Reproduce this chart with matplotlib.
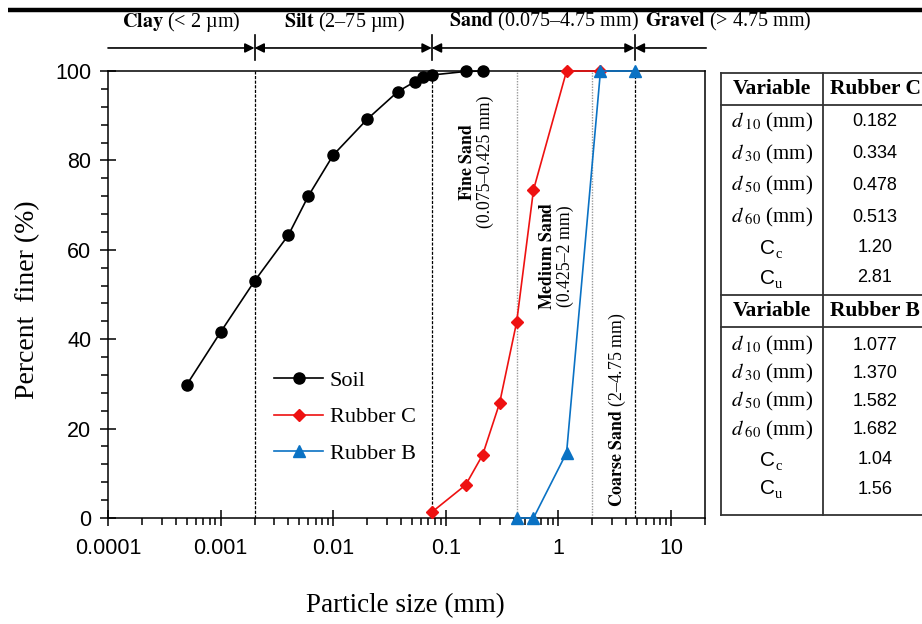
import matplotlib.pyplot as plt
import matplotlib.transforms as mtransforms
from matplotlib.ticker import FixedLocator, FixedFormatter, LogLocator, NullFormatter, MultipleLocator

plt.rcParams['mathtext.fontset'] = 'stix'
SERIF = 'Liberation Serif'
SANS = 'Liberation Sans'

# ── Data ─────────────────────────────────────────────────────
soil_size = [0.0005, 0.001, 0.002, 0.004, 0.006, 0.01, 0.02, 0.0375, 0.053, 0.063, 0.075, 0.15, 0.212]
soil_pct = [29.8, 41.6, 53.0, 63.3, 72.0, 81.2, 89.2, 95.4, 97.6, 98.6, 99.1, 99.9, 100.0]

rubc_size = [0.075, 0.15, 0.212, 0.3, 0.425, 0.6, 1.18, 2.36]
rubc_pct = [1.3, 7.4, 14.1, 25.7, 43.8, 73.4, 100.0, 100.0]

rubb_size = [0.425, 0.6, 1.18, 2.36, 4.75]
rubb_pct = [0.0, 0.0, 14.6, 100.0, 100.0]

# soil class boundaries (mm)
class_bounds = [0.002, 0.075, 4.75]
sand_bounds = [0.425, 2.0]

x_ticks = [0.0001, 0.001, 0.01, 0.1, 1, 10]
x_ticklabels = ["0.0001", "0.001", "0.01", "0.1", "1", "10"]

table_vars = ["d10", "d30", "d50", "d60", "Cc", "Cu"]
rubc_table = ["0.182", "0.334", "0.478", "0.513", "1.20", "2.81"]
rubb_table = ["1.077", "1.370", "1.582", "1.682", "1.04", "1.56"]

# ── Figure ───────────────────────────────────────────────────
fig = plt.figure(figsize=(9.22, 6.24), dpi=100)
ax = fig.add_axes([108 / 922, 1 - 518 / 624, (705 - 108) / 922, (518 - 71) / 624])

ax.plot(soil_size, soil_pct, color="black", lw=1.2, marker="o", ms=8,
        label="Soil", clip_on=False, zorder=5)
ax.plot(rubc_size, rubc_pct, color="#EE1111", lw=1.2, marker="D", ms=6,
        label="Rubber C", clip_on=False, zorder=5)
ax.plot(rubb_size, rubb_pct, color="#0A72C4", lw=1.2, marker="^", ms=8,
        label="Rubber B", clip_on=False, zorder=6)

for b in class_bounds:
    ax.axvline(b, color="black", lw=0.9, ls=(0, (2.5, 1.2)), zorder=2)
for b in sand_bounds:
    ax.axvline(b, color="#999999", lw=1.0, ls=(0, (1, 1)), zorder=2)

ax.set_xscale("log")
ax.set_xlim(1e-4, 20)
ax.set_ylim(0, 100)
ax.xaxis.set_major_locator(FixedLocator(x_ticks))
ax.xaxis.set_major_formatter(FixedFormatter(x_ticklabels))
ax.xaxis.set_minor_locator(LogLocator(base=10, subs=range(2, 10), numticks=20))
ax.xaxis.set_minor_formatter(NullFormatter())
ax.yaxis.set_major_locator(MultipleLocator(20))
ax.yaxis.set_minor_locator(MultipleLocator(4))
ax.tick_params(which="major", direction="inout", length=11, width=1.1,
               labelsize=15.5, pad=9)
ax.tick_params(which="minor", direction="out", length=5, width=1.1)
ax.tick_params(axis="y", which="major", length=12, pad=6)
for lab in ax.get_xticklabels() + ax.get_yticklabels():
    lab.set_family(SANS)
for sp in ax.spines.values():
    sp.set_linewidth(1.1)

fig.text(28 / 922, 1 - 300 / 624, "Percent  finer (%)", rotation=90,
         ha="center", va="center", family=SERIF, fontsize=20)
fig.text(405 / 922, 1 - 606 / 624, "Particle size (mm)",
         ha="center", va="center", family=SERIF, fontsize=19.5)

# ── Sand sub-class labels ────────────────────────────────────
ax.text(0.187, 79.6, "$\\mathbf{Fine\\ Sand}$\n(0.075–0.425 mm)", rotation=90,
        ha="center", va="center", multialignment="center", family=SERIF,
        fontsize=12.8, linespacing=1.0)
ax.text(0.96, 58.6, "$\\mathbf{Medium\\ Sand}$\n(0.425–2 mm)", rotation=90,
        ha="center", va="center", multialignment="center", family=SERIF,
        fontsize=12.8, linespacing=1.0)
ax.text(3.34, 24.2, "$\\mathbf{Coarse\\ Sand}$ (2–4.75 mm)", rotation=90,
        ha="center", va="center", family=SERIF, fontsize=12.8)

# ── Legend ───────────────────────────────────────────────────
leg = ax.legend(loc="upper left", bbox_to_anchor=(0.245, 0.375), frameon=False,
                prop={"family": SERIF, "size": 16}, handlelength=2.2,
                handletextpad=0.3, labelspacing=0.72)

# ── Top class arrows ─────────────────────────────────────────
trans = mtransforms.blended_transform_factory(ax.transData, ax.transAxes)
y_arr = 1.0515
arrow_kw = dict(color="black", lw=1.2, shrinkA=0, shrinkB=0, mutation_scale=14)
ax.annotate("", xy=(class_bounds[0], y_arr), xytext=(1e-4, y_arr), xycoords=trans,
            textcoords=trans, annotation_clip=False,
            arrowprops=dict(arrowstyle="-|>", **arrow_kw))
ax.annotate("", xy=(class_bounds[1], y_arr), xytext=(class_bounds[0], y_arr), xycoords=trans,
            textcoords=trans, annotation_clip=False,
            arrowprops=dict(arrowstyle="<|-|>", **arrow_kw))
ax.annotate("", xy=(class_bounds[2], y_arr), xytext=(class_bounds[1], y_arr), xycoords=trans,
            textcoords=trans, annotation_clip=False,
            arrowprops=dict(arrowstyle="<|-|>", **arrow_kw))
ax.annotate("", xy=(class_bounds[2], y_arr), xytext=(20.5, y_arr), xycoords=trans,
            textcoords=trans, annotation_clip=False,
            arrowprops=dict(arrowstyle="-|>", **arrow_kw))
for b in class_bounds:
    ax.plot([b, b], [1.024, 1.081], transform=trans, color="black", lw=1.2, clip_on=False)

top_kw = dict(transform=trans, va="center", family=SERIF, fontsize=14.5)
ax.text(0.00045, 1.11, "$\\mathbf{Clay}$ (< 2 µm)", ha="center", **top_kw)
ax.text(0.0125, 1.11, "$\\mathbf{Silt}$ (2–75 µm)", ha="center", **top_kw)
ax.text(0.75, 1.11, "$\\mathbf{Sand}$ (0.075–4.75 mm)", ha="center", **top_kw)
ax.text(5.9, 1.11, "$\\mathbf{Gravel}$ (> 4.75 mm)", ha="left", **top_kw)

# ── Overlay (pixel coords) for top bar and table ─────────────
ov = fig.add_axes([0, 0, 1, 1], zorder=-1)
ov.set_xlim(0, 922)
ov.set_ylim(624, 0)
ov.axis("off")
ov.plot([8, 922], [10, 10], color="black", lw=3.2, solid_capstyle="butt")

tc = "#333333"
tlw = 1.3
x0, xm, x1 = 721, 823, 930
ov.plot([x0, x1], [73, 73], color=tc, lw=tlw)
ov.plot([x0, x1], [515, 515], color=tc, lw=tlw)
ov.plot([x0, x0], [73, 515], color=tc, lw=tlw)
ov.plot([xm, xm], [73, 515], color=tc, lw=tlw)
for yy in [105, 295, 327]:
    ov.plot([x0, x1], [yy, yy], color=tc, lw=tlw)

c1 = (x0 + xm) / 2
c2 = 875


def var_label(y, name):
    if name.startswith("d"):
        ov.text(c1, y, "$d_{\\ %s}$ (mm)" % name[1:], ha="center", va="center",
                family=SERIF, fontsize=15)
    else:
        ov.text(c1 + 3, y, "C", ha="right", va="center", family=SANS, fontsize=15)
        ov.text(c1 + 3, y + 6, name[1:], ha="left", va="center", family=SERIF, fontsize=10.5)


def block(y_head, rows_y, col_name, values):
    ov.text(c1, y_head, "Variable", ha="center", va="center", family=SERIF,
            fontsize=15.5, fontweight="bold")
    ov.text(c2, y_head, col_name, ha="center", va="center", family=SERIF,
            fontsize=15.5, fontweight="bold")
    for y, name, v in zip(rows_y, table_vars, values):
        var_label(y, name)
        ov.text(c2, y, v, ha="center", va="center", family=SANS, fontsize=13)


block(89, [122, 154, 185, 217, 248, 278], "Rubber C", rubc_table)
block(311, [345, 373, 401, 430, 460, 489], "Rubber B", rubb_table)

fig.savefig("out.png", dpi=100)
